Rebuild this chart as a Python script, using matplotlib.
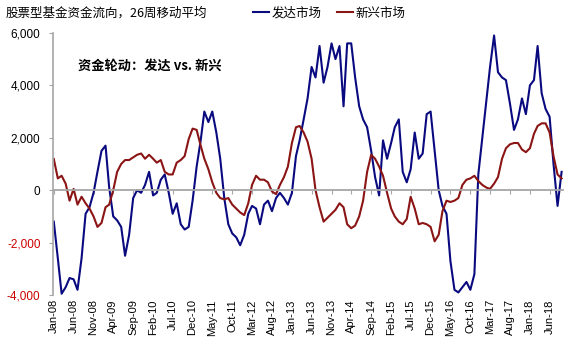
import numpy as np
import pandas as pd
import matplotlib
matplotlib.use('Agg')
import matplotlib.pyplot as plt

plt.rcParams['font.family'] = ['Liberation Sans', 'Noto Sans CJK SC', 'DejaVu Sans']

# monthly readings of the 26-week moving average, Jan-08 onwards
developed = [
    -1200, -2600, -3950, -3700, -3350, -3400, -3800, -2600, -900, -650,
    -100, 700, 1500, 1700, 100, -1000, -1150, -1400, -2500, -1700,
    -300, 0, -100, 200, 700, -200, -100, 400, 600, -100,
    -900, -500, -1300, -1500, -1400, -400, 900, 1900, 3000, 2600,
    3000, 2200, 1200, -300, -1300, -1650, -1800, -2100, -1700, -900,
    -600, -700, -1300, -550, -400, -800, -300, -100, -300, -550,
    -100, 1300, 1900, 2700, 3500, 4700, 4300, 5500, 4100, 4700,
    5600, 5000, 5500, 3200, 5600, 5600, 4300, 3200, 2700, 2400,
    1500, 500, -200, 1900, 1200, 1800, 2400, 2700, 700, 300,
    800, 2200, 1200, 1400, 2900, 3000, 1500, 0, -600, -900,
    -2700, -3800, -3900, -3700, -3500, -3800, -3200, 600, 2000, 3400,
    4700, 5900, 4500, 4300, 4200, 3300, 2300, 2700, 3500, 2900,
    4000, 4200, 5500, 3700, 3100, 2800, 1000, -600, 700,
]
emerging = [
    1190, 450, 550, 250, -400, 50, -550, -250, -500, -700,
    -1000, -1400, -1250, -650, -550, 0, 700, 1000, 1150, 1150,
    1250, 1350, 1400, 1200, 1350, 1200, 1050, 1150, 700, 600,
    600, 1050, 1150, 1300, 1950, 2350, 2300, 1700, 1200, 800,
    300, -100, -300, -350, -300, -550, -700, -850, -950, -500,
    200, 550, 400, 400, 300, -50, -150, 200, 500, 900,
    1800, 2400, 2450, 2200, 1850, 1200, 0, -650, -1200, -1050,
    -900, -750, -500, -650, -1300, -1450, -1350, -1000, -400, 700,
    1350, 1200, 900, 550, -100, -700, -1000, -1200, -1300, -1100,
    -250, -700, -1300, -1250, -1300, -1400, -1950, -1700, -800, -400,
    -450, -400, -300, 200, 400, 450, 550, 350, 200, 100,
    50, 250, 500, 1200, 1600, 1750, 1800, 1800, 1550, 1450,
    1600, 2150, 2450, 2550, 2550, 2200, 1300, 600, 450,
]
series_names = ['发达市场', '新兴市场']
title = '股票型基金资金流向，26周移动平均'
note = '资金轮动：发达 vs. 新兴'

dates = pd.date_range('2008-01-01', periods=len(developed), freq='MS')
ticks = pd.date_range('2008-01-01', '2018-06-01', freq='5MS')
yticks = [-4000, -2000, 0, 2000, 4000, 6000]
cjk = ['Noto Sans CJK SC', 'DejaVu Sans']

fig = plt.figure(figsize=(5.7, 3.5), dpi=100)
ax = fig.add_axes([0.093, 0.157, 0.895, 0.749])

ax.plot(dates, developed, color='#0A0A80', lw=1.5, label=series_names[0])
ax.plot(dates, emerging, color='#8B1414', lw=1.5, label=series_names[1])

ax.set_ylim(-4000, 6000)
ax.set_xlim(dates[0] - pd.Timedelta(days=6), dates[-1] + pd.Timedelta(days=12))

# x axis line sits on zero, labels stay at the bottom
for s in ['top', 'right']:
    ax.spines[s].set_visible(False)
ax.spines['bottom'].set_position(('data', 0))
ax.spines['bottom'].set_color('#A6A6A6')
ax.spines['bottom'].set_linewidth(1.3)
ax.spines['left'].set_color('#A6A6A6')
ax.spines['left'].set_linewidth(1.2)
ax.set_xticks(ticks)
ax.tick_params(axis='x', direction='out', length=3, color='#A6A6A6', labelbottom=False)

sec = ax.secondary_xaxis('bottom')
sec.set_xticks(ticks)
sec.set_xticklabels(ticks.strftime('%b-%y'), rotation=90, fontsize=8)
sec.tick_params(length=0, pad=3)
sec.spines['bottom'].set_visible(False)

ax.set_yticks(yticks)
ax.set_yticklabels([f'{v:,}' for v in yticks], fontsize=8.5)
ax.tick_params(axis='y', direction='out', length=3, color='#A6A6A6', pad=6)
for lab, v in zip(ax.get_yticklabels(), yticks):
    if v < 0:
        lab.set_color('#CC0000')

fig.text(0.01, 0.962, title, fontsize=9, family=cjk, va='center')
ax.text(0.049, 0.875, note, transform=ax.transAxes, fontsize=9.5, fontweight='bold',
        family=cjk, va='center')

leg = ax.legend(loc='center left', bbox_to_anchor=(0.37, 1.075), ncol=2, frameon=False,
                handlelength=1.3, handletextpad=0.2, columnspacing=1.2,
                prop={'family': cjk, 'size': 9})

fig.savefig('out.png', dpi=100, facecolor='white')
